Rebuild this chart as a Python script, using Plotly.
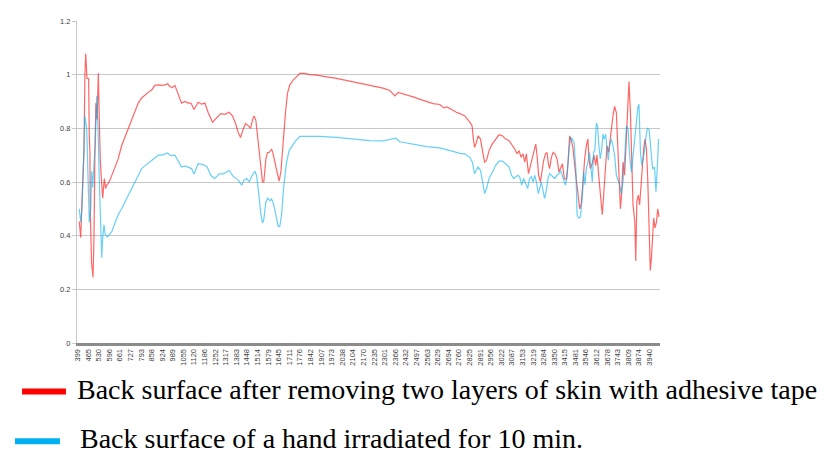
import plotly.graph_objects as go

# Tick labels on the wavenumber axis
tick_labels = [399, 465, 530, 596, 661, 727, 793, 858, 924, 989, 1055, 1120, 1186, 1252, 1317,
               1383, 1448, 1514, 1579, 1645, 1711, 1776, 1842, 1907, 1973, 2038, 2104, 2170, 2235,
               2301, 2366, 2432, 2497, 2563, 2629, 2694, 2760, 2825, 2891, 2956, 3022, 3087, 3153,
               3219, 3284, 3350, 3415, 3481, 3546, 3612, 3678, 3743, 3809, 3874, 3940]

# Series 1: Back surface after removing two layers of skin with adhesive tape
red_x = [410, 419, 425, 431, 439, 445, 450, 458, 468, 472, 476, 478, 486, 495, 501, 507, 513, 520,
         528, 534, 540, 549, 555, 565, 573, 581, 589, 600, 611, 631, 651, 672, 693, 713, 734, 755,
         775, 796, 816, 837, 858, 878, 899, 920, 940, 957, 971, 985, 1002, 1013, 1027, 1043, 1064,
         1084, 1101, 1120, 1146, 1167, 1188, 1208, 1235, 1260, 1285, 1311, 1338, 1359, 1379, 1394,
         1408, 1424, 1439, 1455, 1470, 1483, 1492, 1503, 1517, 1532, 1544, 1552, 1565, 1575, 1585,
         1600, 1610, 1625, 1637, 1647, 1658, 1672, 1687, 1699, 1713, 1734, 1755, 1775, 1806, 1837,
         1878, 1919, 1961, 2002, 2105, 2208, 2290, 2332, 2349, 2363, 2383, 2414, 2476, 2538, 2600,
         2641, 2666, 2686, 2713, 2744, 2765, 2796, 2827, 2841, 2847, 2856, 2868, 2878, 2893, 2905,
         2918, 2930, 2946, 2965, 2987, 3008, 3029, 3049, 3070, 3091, 3105, 3119, 3132, 3144, 3156,
         3167, 3177, 3190, 3202, 3214, 3227, 3235, 3243, 3253, 3264, 3274, 3284, 3295, 3305, 3313,
         3321, 3332, 3342, 3354, 3367, 3379, 3389, 3400, 3412, 3425, 3435, 3445, 3456, 3466, 3476,
         3487, 3496, 3507, 3517, 3527, 3538, 3548, 3558, 3564, 3573, 3585, 3595, 3606, 3614, 3623,
         3631, 3641, 3647, 3657, 3668, 3676, 3686, 3692, 3703, 3713, 3723, 3734, 3744, 3750, 3759,
         3767, 3775, 3785, 3796, 3806, 3812, 3821, 3829, 3837, 3848, 3854, 3861, 3870, 3878, 3886,
         3895, 3903, 3911, 3920, 3928, 3936, 3944, 3951, 3959, 3965, 3973, 3982, 3990, 3998]
red_y = [0.453, 0.392, 0.50, 0.576, 0.71, 1.0, 1.078, 0.986, 0.985, 0.77, 0.71, 0.49, 0.30, 0.245,
         0.39, 0.71, 0.894, 0.833, 1.005, 0.83, 0.686, 0.59, 0.54, 0.613, 0.576, 0.59, 0.594, 0.607,
         0.625, 0.655, 0.686, 0.735, 0.766, 0.80, 0.833, 0.864, 0.894, 0.913, 0.925, 0.934, 0.943,
         0.96, 0.962, 0.96, 0.962, 0.966, 0.956, 0.952, 0.96, 0.943, 0.919, 0.894, 0.90, 0.894,
         0.894, 0.87, 0.897, 0.89, 0.894, 0.858, 0.823, 0.839, 0.855, 0.852, 0.86, 0.846, 0.815,
         0.784, 0.766, 0.796, 0.818, 0.81, 0.80, 0.833, 0.846, 0.83, 0.747, 0.662, 0.60, 0.60, 0.686,
         0.71, 0.71, 0.723, 0.705, 0.662, 0.625, 0.603, 0.64, 0.76, 0.864, 0.931, 0.962, 0.98,
         0.993, 1.005, 1.005, 1.0, 0.998, 0.995, 0.99, 0.986, 0.974, 0.96, 0.95, 0.941, 0.929,
         0.921, 0.934, 0.929, 0.917, 0.904, 0.892, 0.889, 0.876, 0.88, 0.87, 0.86, 0.855, 0.846,
         0.823, 0.809, 0.772, 0.729, 0.747, 0.772, 0.76, 0.71, 0.674, 0.68, 0.717, 0.741, 0.76,
         0.776, 0.772, 0.76, 0.754, 0.735, 0.723, 0.705, 0.717, 0.692, 0.705, 0.674, 0.705, 0.631,
         0.66, 0.68, 0.717, 0.741, 0.70, 0.625, 0.60, 0.65, 0.68, 0.705, 0.71, 0.668, 0.65, 0.692,
         0.71, 0.705, 0.686, 0.637, 0.65, 0.668, 0.613, 0.61, 0.674, 0.772, 0.754, 0.723, 0.662,
         0.60, 0.545, 0.50, 0.52, 0.613, 0.686, 0.735, 0.76, 0.686, 0.65, 0.67, 0.70, 0.662, 0.70,
         0.637, 0.564, 0.515, 0.478, 0.58, 0.68, 0.735, 0.71, 0.747, 0.796, 0.846, 0.882, 0.858,
         0.698, 0.588, 0.50, 0.56, 0.674, 0.625, 0.76, 0.919, 0.974, 0.86, 0.637, 0.515, 0.453,
         0.306, 0.53, 0.551, 0.515, 0.576, 0.674, 0.723, 0.76, 0.723, 0.613, 0.429, 0.27, 0.318,
         0.404, 0.466, 0.429, 0.45, 0.50, 0.47]

# Series 2: Back surface of a hand irradiated for 10 min.
blue_x = [410, 419, 427, 435, 445, 456, 466, 472, 481, 487, 493, 501, 509, 518, 526, 534, 542, 549,
          555, 563, 571, 583, 589, 611, 631, 651, 672, 693, 713, 734, 755, 775, 796, 816, 837, 858,
          878, 899, 920, 940, 957, 971, 985, 1002, 1022, 1043, 1064, 1084, 1105, 1120, 1146, 1177,
          1202, 1223, 1249, 1276, 1301, 1338, 1363, 1394, 1415, 1429, 1446, 1462, 1476, 1497, 1507,
          1522, 1534, 1544, 1552, 1565, 1577, 1590, 1600, 1614, 1627, 1641, 1651, 1662, 1676, 1693,
          1709, 1730, 1750, 1775, 1817, 1857, 1899, 2002, 2105, 2208, 2290, 2342, 2369, 2394, 2476,
          2559, 2641, 2692, 2723, 2765, 2796, 2827, 2843, 2856, 2868, 2878, 2893, 2905, 2919, 2930,
          2946, 2967, 2987, 3008, 3029, 3049, 3070, 3085, 3099, 3111, 3125, 3136, 3148, 3160, 3173,
          3185, 3197, 3208, 3218, 3229, 3239, 3251, 3259, 3270, 3280, 3290, 3301, 3311, 3321, 3338,
          3352, 3367, 3379, 3389, 3404, 3419, 3429, 3441, 3452, 3462, 3472, 3483, 3491, 3500, 3512,
          3524, 3532, 3540, 3548, 3558, 3568, 3576, 3585, 3593, 3601, 3610, 3617, 3626, 3634, 3643,
          3651, 3659, 3668, 3676, 3684, 3692, 3703, 3713, 3723, 3734, 3744, 3754, 3765, 3775, 3785,
          3796, 3806, 3816, 3827, 3837, 3847, 3858, 3868, 3874, 3883, 3891, 3896, 3907, 3917, 3927,
          3937, 3948, 3958, 3970, 3979, 3987, 3995]
blue_y = [0.50, 0.45, 0.50, 0.70, 0.846, 0.80, 0.50, 0.45, 0.50, 0.64, 0.58, 0.675, 0.747, 0.92,
          0.80, 0.61, 0.45, 0.318, 0.39, 0.44, 0.404, 0.395, 0.398, 0.415, 0.447, 0.478, 0.50, 0.527,
          0.551, 0.576, 0.60, 0.625, 0.65, 0.66, 0.67, 0.68, 0.692, 0.70, 0.70, 0.706, 0.708, 0.70,
          0.698, 0.70, 0.68, 0.656, 0.66, 0.656, 0.65, 0.63, 0.668, 0.665, 0.656, 0.625, 0.613, 0.63,
          0.63, 0.643, 0.62, 0.607, 0.588, 0.607, 0.613, 0.60, 0.62, 0.64, 0.625, 0.55, 0.478, 0.447,
          0.46, 0.527, 0.54, 0.53, 0.537, 0.515, 0.472, 0.435, 0.435, 0.478, 0.588, 0.674, 0.717,
          0.735, 0.754, 0.77, 0.77, 0.772, 0.77, 0.766, 0.76, 0.754, 0.753, 0.76, 0.763, 0.75, 0.741,
          0.732, 0.727, 0.72, 0.714, 0.707, 0.705, 0.692, 0.674, 0.631, 0.643, 0.656, 0.643, 0.607,
          0.557, 0.575, 0.613, 0.637, 0.662, 0.678, 0.678, 0.668, 0.656, 0.625, 0.613, 0.62, 0.625,
          0.618, 0.588, 0.613, 0.595, 0.576, 0.613, 0.62, 0.60, 0.625, 0.60, 0.557, 0.576, 0.60,
          0.568, 0.539, 0.57, 0.613, 0.631, 0.62, 0.613, 0.625, 0.631, 0.643, 0.613, 0.588, 0.62,
          0.723, 0.766, 0.76, 0.747, 0.65, 0.478, 0.466, 0.47, 0.551, 0.637, 0.59, 0.65, 0.674, 0.71,
          0.65, 0.60, 0.71, 0.72, 0.82, 0.81, 0.735, 0.686, 0.72, 0.778, 0.76, 0.778, 0.72, 0.68,
          0.735, 0.76, 0.735, 0.70, 0.625, 0.607, 0.59, 0.557, 0.60, 0.686, 0.809, 0.80, 0.70, 0.637,
          0.70, 0.76, 0.815, 0.882, 0.89, 0.71, 0.662, 0.675, 0.71, 0.77, 0.80, 0.795, 0.72, 0.65,
          0.655, 0.564, 0.65, 0.76]

y_ticks = [0, 0.2, 0.4, 0.6, 0.8, 1, 1.2]
y_tick_text = ["0", "0.2", "0.4", "0.6", "0.8", "1", "1.2"]

series_names = ["Back surface after removing two layers of skin with adhesive tape",
                "Back surface of a hand irradiated for 10 min."]
series_colors = ["#FF0000", "#00B0F0"]

fig = go.Figure()
fig.add_trace(go.Scatter(x=red_x, y=red_y, mode="lines", name=series_names[0],
                         line=dict(color="rgba(255,0,0,0.6)", width=1.2)))
fig.add_trace(go.Scatter(x=blue_x, y=blue_y, mode="lines", name=series_names[1],
                         line=dict(color="rgba(0,176,240,0.6)", width=1.2)))

# page body has an 8px default margin: figure is sized to fit inside the window
fig.update_layout(
    width=817, height=449,
    margin=dict(l=69, r=165, t=9, b=114),
    paper_bgcolor="white", plot_bgcolor="white",
    showlegend=False,
    font=dict(family="Liberation Sans, Arial, sans-serif", color="#404040"),
)
fig.update_xaxes(
    range=[396, 4004], tickmode="array", tickvals=tick_labels,
    ticktext=[str(t) for t in tick_labels], tickangle=-90,
    tickfont=dict(size=7.5, color="#404040"),
    showgrid=False, zeroline=False,
    showline=True, linecolor="#8C8C8C", linewidth=3, ticks="",
)
fig.update_yaxes(
    range=[0, 1.2], tickmode="array", tickvals=y_ticks, ticktext=y_tick_text,
    tickfont=dict(size=7.5, color="#404040"),
    showgrid=True, gridcolor="#C8C8C8", gridwidth=1, zeroline=False,
    showline=True, linecolor="#C8C8C8", linewidth=1,
    ticks="outside", ticklen=4, tickcolor="#C8C8C8",
)

# Legend drawn below the plot (keys + text); plot area is 583 x 326 px
legend_rows = [(-0.151, -0.0943, -0.0189, -0.0034), (-0.305, -0.1063, -0.0292, 0.0017)]
for (yy, kx0, kx1, tx), name, col in zip(legend_rows, series_names, series_colors):
    fig.add_shape(type="line", xref="paper", yref="paper", x0=kx0, x1=kx1, y0=yy, y1=yy,
                  line=dict(color=col, width=6))
    fig.add_annotation(xref="paper", yref="paper", x=tx, y=yy + 0.008, xanchor="left",
                       yanchor="middle", showarrow=False, text=name,
                       font=dict(family="Liberation Serif, serif", size=28, color="black"))

fig.write_html("out.html")
